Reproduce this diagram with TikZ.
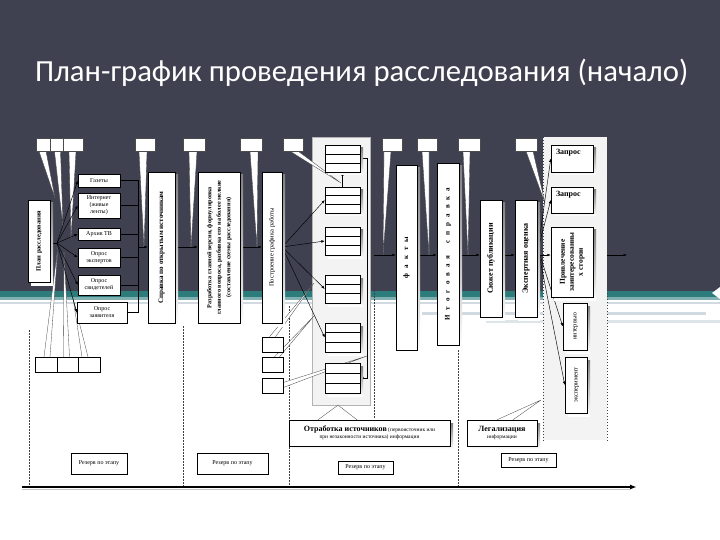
\documentclass[tikz,border=0pt]{standalone}
\usepackage{fontspec}
\setmainfont{Liberation Serif}
\newfontfamily\titlefont{Carlito}
\usepackage{graphicx}
\usetikzlibrary{arrows.meta,calc}
\pgfdeclarelayer{back}
\pgfdeclarelayer{mid}
\pgfsetlayers{back,mid,main}
\definecolor{slate}{RGB}{63,65,80}
\definecolor{teala}{RGB}{44,124,124}
\definecolor{tealb}{RGB}{130,176,178}
\definecolor{stripe}{RGB}{208,218,224}
\definecolor{shade}{RGB}{170,170,170}
\definecolor{panel}{RGB}{243,243,243}
\newcommand{\fsz}[2]{\fontsize{#1}{#2}\selectfont}
\newcommand{\vt}[1]{\rotatebox{90}{\begin{tabular}{@{}c@{}}#1\end{tabular}}}
\newcommand{\lsp}{\hspace{5pt}}
\newcommand{\mybox}[7][]{%
  \fill[shade] ({#3-#5/2+3},{#4-#6/2+3}) rectangle ({#3+#5/2+3},{#4+#6/2+3});
  \node[box,minimum width=#5pt,minimum height=#6pt,#1] (#2) at (#3,#4) {#7};}
\newcommand{\plainbox}[7][]{%
  \node[box,minimum width=#5pt,minimum height=#6pt,#1] (#2) at (#3,#4) {#7};}
\newcommand{\callout}[3]{%
  \fill[white] #1 -- #3 -- #2 -- cycle;
  \draw[wedgeline] #1 -- #3 -- #2;}
\begin{document}
\begin{tikzpicture}[x=1pt,y=-1pt,
  box/.style={draw=black, line width=0.4pt, fill=white, inner sep=0pt, align=center, text=black, font=\fsz{6}{7}},
  cbox/.style={draw=black!70, line width=0.35pt, fill=white, inner sep=0pt, minimum height=13pt},
  arr/.style={draw=black, line width=0.45pt, -{Latex[length=3.5pt,width=2.6pt]}},
  ln/.style={draw=black, line width=0.45pt},
  div/.style={draw=black!75, line width=0.4pt, dash pattern=on 1.6pt off 1.4pt},
  wedgeline/.style={draw=black!75, line width=0.3pt}]
\useasboundingbox (0,0) rectangle (720,540);
\begin{pgfonlayer}{back}
\fill[white] (0,0) rectangle (720,540);
\fill[slate] (0,0) rectangle (720,291);
\fill[teala] (0,291) rectangle (720,297);
\fill[tealb] (0,297) rectangle (720,300);
\fill[stripe] (0,302) rectangle (720,304);
\fill[stripe] (422,312) rectangle (706,315);
\fill[stripe!70] (486,320) rectangle (720,323);
\fill[white] (720,287) -- (712,293) -- (720,299) -- cycle;
\node[draw=gray!60, fill=panel, line width=0.3pt, minimum width=58pt, minimum height=268pt, inner sep=0pt] (midpanel) at (341,271) {};
\node[fill=panel, minimum width=64pt, minimum height=303pt, inner sep=0pt] (rpanel) at (575,288.5) {};
\draw[div] (29,330) -- (29,486);
\draw[div] (183,326) -- (183,486);
\draw[div] (289,306) -- (289,486);
\draw[div] (374,137) -- (374,418);
\draw[div] (458,350) -- (458,486);
\draw[div] (rpanel.north west) -- (rpanel.south west);
\draw[div] (rpanel.north east) -- (rpanel.south east);
\end{pgfonlayer}

\node[anchor=west, inner sep=0pt, text=white] (title) at (35,73) {\resizebox{653pt}{!}{\titlefont План-график проведения расследования (начало)}};

% callout boxes top
\node[cbox, minimum width=14pt] (cA1) at (43,144.5) {};
\node[cbox, minimum width=13pt] (cA2) at (56.5,144.5) {};
\node[cbox, minimum width=20pt] (cA3) at (73,144.5) {};
\node[cbox, minimum width=20pt] (cB) at (145,144.5) {};
\node[cbox, minimum width=22pt] (cC) at (194,144.5) {};
\node[cbox, minimum width=22pt] (cD) at (251,144.5) {};
\node[cbox, minimum width=20pt] (cE) at (293,144.5) {};
\node[cbox, minimum width=20pt] (cF) at (392,144.5) {};
\node[cbox, minimum width=20pt] (cG) at (427,144.5) {};
\node[cbox, minimum width=22pt] (cH) at (469,144.5) {};
\node[cbox, minimum width=22pt] (cI) at (526,144.5) {};

% left part
\mybox[font=\fsz{6.5}{8}\bfseries]{plan}{39}{241}{22}{82}{\vt{План расследования}}
\plainbox{gaz}{99}{180.5}{42}{13}{Газеты}
\plainbox{inet}{99}{205.5}{42}{25}{Интернет\\(живые\\ленты)}
\plainbox{arch}{99}{234}{42}{12}{Архив ТВ}
\plainbox{expq}{99}{257.5}{42}{19}{Опрос\\экспертов}
\plainbox{svid}{99}{285}{42}{20}{Опрос\\свидетелей}
\plainbox{zay}{102}{312.5}{50}{21}{Опрос\\заявителя}
\mybox[font=\fsz{7}{8}\bfseries]{sprav}{161.5}{247.5}{27}{151}{\vt{Справка по открытым источникам}}
\mybox[font=\fsz{6.2}{9.5}\bfseries]{razr}{219}{247.5}{42}{151}{\vt{Разработка главной версии, формулировка\\главного вопроса, разбивка его на более мелкие\\(составление схемы расследования)}}
\mybox[font=\fsz{6.5}{8}]{postr}{272}{247.5}{20}{151}{\vt{Построение графика работы}}

% stacked boxes
\mybox{s1}{342.5}{158.5}{35}{27}{}
\mybox{s2}{342.5}{200}{35}{26}{}
\mybox{s3}{342.5}{241}{35}{28}{}
\mybox{s4}{342.5}{289}{35}{28}{}
\mybox{s5}{342.5}{337.5}{35}{29}{}
\mybox{s6}{342.5}{378}{35}{30}{}
\foreach \q in {s1,s2,s3,s4,s5,s6}{
  \draw[line width=0.35pt] ($(\q.north west)!0.33!(\q.south west)$) -- ($(\q.north east)!0.33!(\q.south east)$);
  \draw[line width=0.35pt] ($(\q.north west)!0.66!(\q.south west)$) -- ($(\q.north east)!0.66!(\q.south east)$);
}

% small callout boxes near the stack
\plainbox{m1}{272.5}{344.5}{21}{15}{}
\plainbox{m2}{272.5}{364.5}{21}{15}{}
\plainbox{m3}{272.5}{385.5}{21}{15}{}
% bottom-left cells
\plainbox{l1}{46}{364.5}{22}{15}{}
\plainbox{l2}{67.5}{364.5}{21}{15}{}
\plainbox{l3}{89}{364.5}{22}{15}{}

% right part
\mybox[font=\fsz{7}{8}\bfseries]{fakty}{406.5}{257.5}{21}{185}{\vt{ф\lsp а\lsp к\lsp т\lsp ы}}
\mybox[font=\fsz{7}{8}\bfseries]{itog}{448}{254}{22}{182}{\vt{И\lsp т\lsp о\lsp г\lsp о\lsp в\lsp а\lsp я\hspace{12pt}с\lsp п\lsp р\lsp а\lsp в\lsp к\lsp а}}
\mybox[font=\fsz{8}{9}\bfseries]{syuz}{491}{258.5}{22}{117}{\vt{Сюжет публикации}}
\mybox[font=\fsz{8}{9}\bfseries]{expo}{526}{258.5}{22}{117}{\vt{Экспертная оценка}}
\mybox{zap1}{572}{158.5}{42}{27}{}
\mybox{zap2}{572}{200}{42}{26}{}
\node[anchor=north west, inner sep=0pt, font=\fsz{8}{9}\bfseries] (zap1t) at ($(zap1.north west)+(5,4)$) {Запрос};
\node[anchor=north west, inner sep=0pt, font=\fsz{8}{9}\bfseries] (zap2t) at ($(zap2.north west)+(5,4)$) {Запрос};
\mybox[font=\fsz{7.5}{9}\bfseries]{privl}{572}{262}{42}{70}{\vt{Привлечение\\заинтересованны\\х сторон}}
\mybox[font=\fsz{6.5}{8}]{interv}{575}{326.5}{24}{47}{\vt{интервью}}
\mybox[font=\fsz{6.5}{8}]{eksper}{576}{385}{22}{56}{\vt{эксперимент}}

% bottom boxes
\mybox[font=\fsz{5.5}{7}]{otr}{369.5}{433}{161}{26}{{\fsz{8}{9}\bfseries Отработка источников} (первоисточник или\\при незаконности источника) информации}
\mybox[font=\fsz{5.5}{7}]{legal}{502}{433}{70}{26}{{\fsz{8}{9}\bfseries Легализация}\\информации}
\plainbox{reza}{99}{463.5}{56}{21}{Резерв по этапу}
\plainbox{rezb}{232.5}{463.5}{71}{21}{Резерв по этапу}
\plainbox{rezc}{365.5}{467.5}{55}{13}{Резерв по этапу}
\plainbox{rezd}{528.5}{460}{55}{14}{Резерв по этапу}

% timeline
\coordinate (t0) at (22,487);
\coordinate (t1) at (637,487);
\draw[gray!45, line width=1pt] (22,489.5) -- (630,489.5);
\draw[line width=1.4pt, -{Latex[length=7pt,width=5pt]}] (t0) -- (t1);

\begin{pgfonlayer}{mid}
% coordinates
\coordinate (fan) at (57,243);
\coordinate (bus) at (138,247);
\coordinate (ml) at (374,255);
\coordinate (endl) at (627,255);
\coordinate (efan) at (538,249);
\coordinate (tA1) at (55,198);
\coordinate (tA2) at (63,227);
\coordinate (tA3) at (71,238);
\coordinate (tB) at (144,247);
\coordinate (tC) at (191,247);
\coordinate (tD) at (257,247);
\coordinate (tE) at (341,183);
\coordinate (tF) at (383,255);
\coordinate (tG) at (429,255);
\coordinate (tH) at (468,255);
\coordinate (tI) at (545,203);
\coordinate (tL1) at (58,246);
\coordinate (tL2) at (64,252);
\coordinate (tL3) at (73,298);
\coordinate (tM1) at (314,283);
\coordinate (tM2) at (314,316);
\coordinate (tM3) at (367,356);
\coordinate (tLeg) at (541,400);
% callout wedges
\callout{($(cA1.south)+(-4,0)$)}{($(cA1.south)+(3,0)$)}{(tA1)}
\callout{($(cA2.south)+(-2,0)$)}{($(cA2.south)+(4,0)$)}{(tA2)}
\callout{($(cA3.south)+(-4,0)$)}{($(cA3.south)+(3,0)$)}{(tA3)}
\callout{($(cB.south)+(-6,0)$)}{($(cB.south)+(2,0)$)}{(tB)}
\callout{($(cC.south)+(-5,0)$)}{($(cC.south)+(3,0)$)}{(tC)}
\callout{($(cD.south)+(-1,0)$)}{($(cD.south)+(7,0)$)}{(tD)}
\callout{($(cE.south)+(-3,0)$)}{($(cE.south)+(5,0)$)}{(tE)}
\callout{($(cF.south)+(-8,0)$)}{($(cF.south)+(-1,0)$)}{(tF)}
\callout{($(cG.south)+(-5,0)$)}{($(cG.south)+(2,0)$)}{(tG)}
\callout{($(cH.south)+(-6,0)$)}{($(cH.south)+(1,0)$)}{(tH)}
\callout{($(cI.south)+(0,0)$)}{($(cI.south)+(7,0)$)}{(tI)}
\callout{($(l1.north)+(-2,0)$)}{($(l1.north)+(4,0)$)}{(tL1)}
\callout{($(l2.north)+(-4,0)$)}{($(l2.north)+(2,0)$)}{(tL2)}
\callout{($(l3.north)+(-7,0)$)}{($(l3.north)+(-1,0)$)}{(tL3)}
\callout{($(m1.north)+(-3,0)$)}{($(m1.north)+(3,0)$)}{(tM1)}
\callout{($(m2.north)+(2,0)$)}{($(m2.north)+(7,0)$)}{(tM2)}
\callout{($(m3.east)+(0,-3)$)}{($(m3.east)+(0,2)$)}{(tM3)}
\callout{($(otr.north)+(-51.5,0)$)}{($(otr.north)+(-12.5,0)$)}{($(midpanel.south)+(-3,0)$)}
\callout{($(legal.north)+(-5,0)$)}{($(legal.north)+(11,0)$)}{(tLeg)}
% connectors left
\draw[ln] (plan.east |- fan) -- (fan);
\foreach \t in {gaz,inet,arch,expq,svid,zay}{\draw[arr] (fan) -- (\t.west);}
\foreach \t in {gaz,inet,arch,expq,svid,zay}{\draw[ln] (\t.east) -- (\t.east -| bus);}
\draw[ln] (gaz.east -| bus) -- (zay.east -| bus);
\draw[arr] (bus) -- (sprav.west |- bus);
\draw[arr] (sprav.east |- bus) -- (razr.west |- bus);
\draw[arr] (razr.east |- bus) -- (postr.west |- bus);
\foreach \t in {s2,s3,s4,s5}{\draw[arr] (postr.east |- bus) -- (\t.west);}
\draw[arr] (s2.north) -- (s1.south);
\draw[arr] (s1.east) -- ++(7,0) |- (s6.east);
% connectors right
\draw[arr] (ml) -- (fakty.west |- ml);
\draw[arr] (fakty.east |- ml) -- (itog.west |- ml);
\draw[arr] (itog.east |- ml) -- (syuz.west |- ml);
\draw[arr] (syuz.east |- ml) -- (expo.west |- ml);
\draw[arr] (expo.east |- ml) -- (privl.west |- ml);
\draw[arr] (rpanel.east |- ml) -- (endl);
\foreach \t in {zap1,zap2,interv,eksper}{\draw[arr] (efan) -- (\t.west);}
\end{pgfonlayer}
\end{tikzpicture}
\end{document}
